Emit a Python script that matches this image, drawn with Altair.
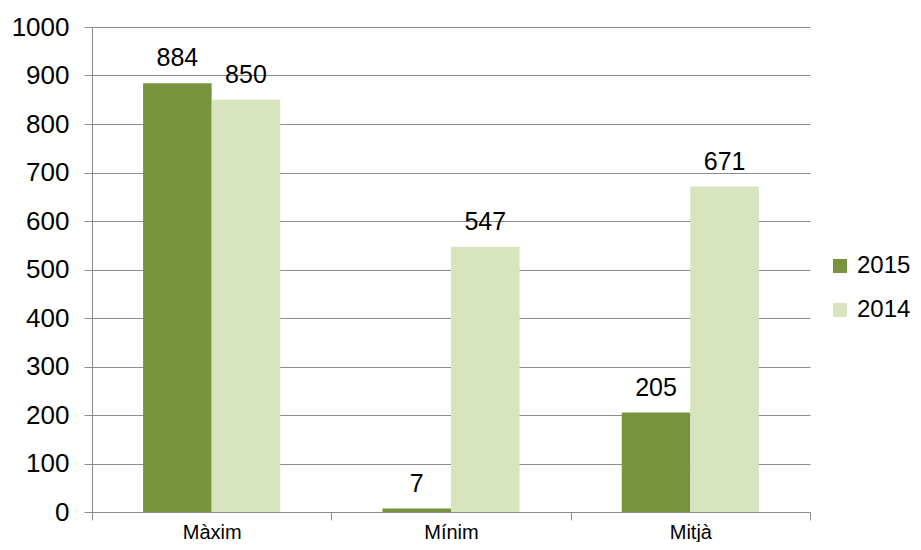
import altair as alt
import pandas as pd

categories = ["Màxim", "Mínim", "Mitjà"]
series = ["2015", "2014"]
values_2015 = [884, 7, 205]
values_2014 = [850, 547, 671]
y_ticks = [0, 100, 200, 300, 400, 500, 600, 700, 800, 900, 1000]
colors = ["#77933C", "#D7E4BD"]

rows = []
for i, c in enumerate(categories):
    rows.append({"cat": c, "year": series[0], "value": values_2015[i]})
    rows.append({"cat": c, "year": series[1], "value": values_2014[i]})
df = pd.DataFrame(rows)

FONT = "Liberation Sans"

x = alt.X(
    "cat:N",
    sort=categories,
    scale=alt.Scale(paddingInner=0, paddingOuter=0),
    axis=alt.Axis(
        title=None,
        labelAngle=0,
        tickBand="extent",
        grid=False,
        domainColor="#8c8c8c",
        tickColor="#8c8c8c",
        tickSize=8,
        labelFontSize=20,
        labelPadding=2,
        labelColor="#000000",
        labelFont=FONT,
    ),
)
xo = alt.XOffset(
    "year:N",
    sort=series,
    scale=alt.Scale(paddingInner=0, paddingOuter=0.745),
)
y = alt.Y(
    "value:Q",
    scale=alt.Scale(domain=[0, 1000], nice=False),
    axis=alt.Axis(
        title=None,
        values=y_ticks,
        format="d",
        grid=True,
        gridColor="#8c8c8c",
        gridWidth=1.2,
        domainColor="#8c8c8c",
        tickColor="#8c8c8c",
        tickSize=8,
        labelFontSize=26,
        labelPadding=15,
        labelColor="#000000",
        labelFont=FONT,
    ),
)
color = alt.Color(
    "year:N",
    sort=series,
    scale=alt.Scale(domain=series, range=colors),
    legend=alt.Legend(
        title=None,
        orient="none",
        legendX=736,
        legendY=227,
        symbolType="square",
        symbolSize=196,
        symbolStrokeWidth=0,
        labelFontSize=24,
        labelFont=FONT,
        labelColor="#000000",
        rowPadding=20,
        labelOffset=5,
    ),
)

base = alt.Chart(df).encode(x=x, xOffset=xo, y=y)
bars = base.mark_bar().encode(color=color)
labels = base.mark_text(
    dy=-17, baseline="alphabetic", fontSize=25, font=FONT, color="#000000"
).encode(text="value:Q")

chart = (
    alt.layer(bars, labels)
    .properties(
        width=718,
        height=485,
        autosize=alt.AutoSizeParams(type="none"),
        padding={"left": 84, "top": 19, "right": 103, "bottom": 30},
    )
    .configure_view(stroke=None)
)

chart.save("out.html", embed_options={"renderer": "svg", "actions": False})
